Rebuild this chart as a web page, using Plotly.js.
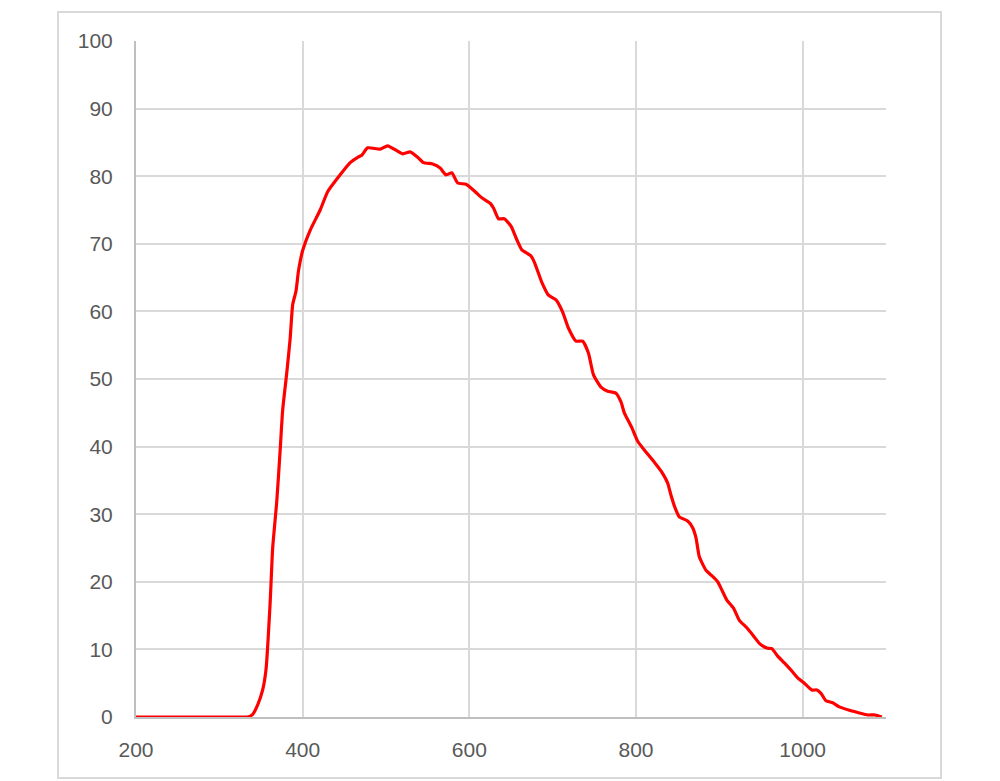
<!DOCTYPE html>
<html>
<head>
<meta charset="utf-8">
<script src="https://cdn.plot.ly/plotly-3.0.1.min.js"></script>
<style>
html,body{margin:0;padding:0;background:#fff;}
#chart{width:1000px;height:781px;}
</style>
</head>
<body>
<div id="chart"></div>
<script>
// Wavelength (nm)
const wavelength = [200, 250, 300, 325, 334, 340, 346, 352, 356, 361, 364, 369, 373, 376, 381, 385, 388, 392, 395, 400,
  409, 421, 430, 445, 457, 466, 471, 478, 493, 502, 520, 529, 538, 545, 556, 565, 572, 579, 586, 596,
  607, 615, 625, 629, 635, 642, 650, 657, 663, 674, 678, 687, 695, 704, 712, 719, 728, 736, 743, 749,
  758, 766, 776, 782, 786, 795, 802, 812, 822, 830, 838, 842, 847, 852, 862, 868, 872, 876, 884, 891,
  898, 903, 909, 917, 924, 933, 941, 948, 957, 963, 970, 978, 987, 994, 1002, 1011, 1017, 1022, 1028,
  1036, 1044, 1056, 1068, 1078, 1087, 1095];
// Response (%)
const response = [0, 0, 0, 0, 0, 0.4, 1.8, 4, 7, 17, 25, 32, 39.5, 45.4, 51, 56, 61, 63, 66, 69,
  72, 75, 77.7, 80.2, 82, 82.8, 83.1, 84.2, 84, 84.5, 83.3, 83.6, 82.8, 82, 81.8, 81.2, 80.2, 80.5, 79, 78.8,
  77.7, 76.8, 76, 75.3, 73.7, 73.7, 72.6, 70.6, 69.1, 68.2, 67.3, 64.3, 62.4, 61.7, 59.9, 57.5, 55.6, 55.6, 53.8, 50.6,
  48.8, 48.2, 47.9, 46.6, 45, 42.8, 40.8, 39.2, 37.7, 36.4, 34.6, 32.8, 30.9, 29.6, 29, 28, 26.5, 23.7, 21.7, 20.9,
  20, 18.8, 17.3, 16.1, 14.3, 13.2, 12, 10.9, 10.2, 10.1, 9, 8, 6.8, 5.8, 5, 4, 4, 3.5, 2.4,
  2.1, 1.5, 1, 0.6, 0.3, 0.3, 0];
const xTicks = [200, 400, 600, 800, 1000];
const yTicks = [0, 10, 20, 30, 40, 50, 60, 70, 80, 90, 100];

const trace = {
  x: wavelength, y: response, type: 'scatter', mode: 'lines',
  line: {color: '#ff0000', width: 3.2, shape: 'spline', smoothing: 0.5},
  hoverinfo: 'x+y'
};

const tickFont = {family: 'Liberation Sans, Arial, sans-serif', size: 21, color: '#595959'};

const layout = {
  width: 1000, height: 781,
  margin: {l: 136, r: 114, t: 41, b: 64},
  paper_bgcolor: '#ffffff', plot_bgcolor: '#ffffff',
  showlegend: false,
  xaxis: {
    range: [200, 1100], tickvals: xTicks, ticktext: xTicks.map(String),
    showgrid: true, gridcolor: '#d9d9d9', gridwidth: 2,
    showline: true, linecolor: '#bfbfbf', linewidth: 2,
    zeroline: false, ticks: '', tickfont: tickFont, ticklabelstandoff: 13
  },
  yaxis: {
    range: [0, 100], tickvals: yTicks, ticktext: yTicks.map(String),
    showgrid: true, gridcolor: '#d9d9d9', gridwidth: 2,
    showline: true, linecolor: '#bfbfbf', linewidth: 2,
    zeroline: false, ticks: '', tickfont: tickFont, ticklabelstandoff: 17
  },
  shapes: [{
    type: 'rect', xref: 'paper', yref: 'paper', layer: 'below',
    x0: (58 - 136) / 750, x1: (941 - 136) / 750,
    y0: (717 - 778) / 676, y1: (717 - 12) / 676,
    line: {color: '#d9d9d9', width: 2}, fillcolor: 'rgba(0,0,0,0)'
  }]
};

Plotly.newPlot('chart', [trace], layout, {displayModeBar: false, staticPlot: true});
</script>
</body>
</html>
